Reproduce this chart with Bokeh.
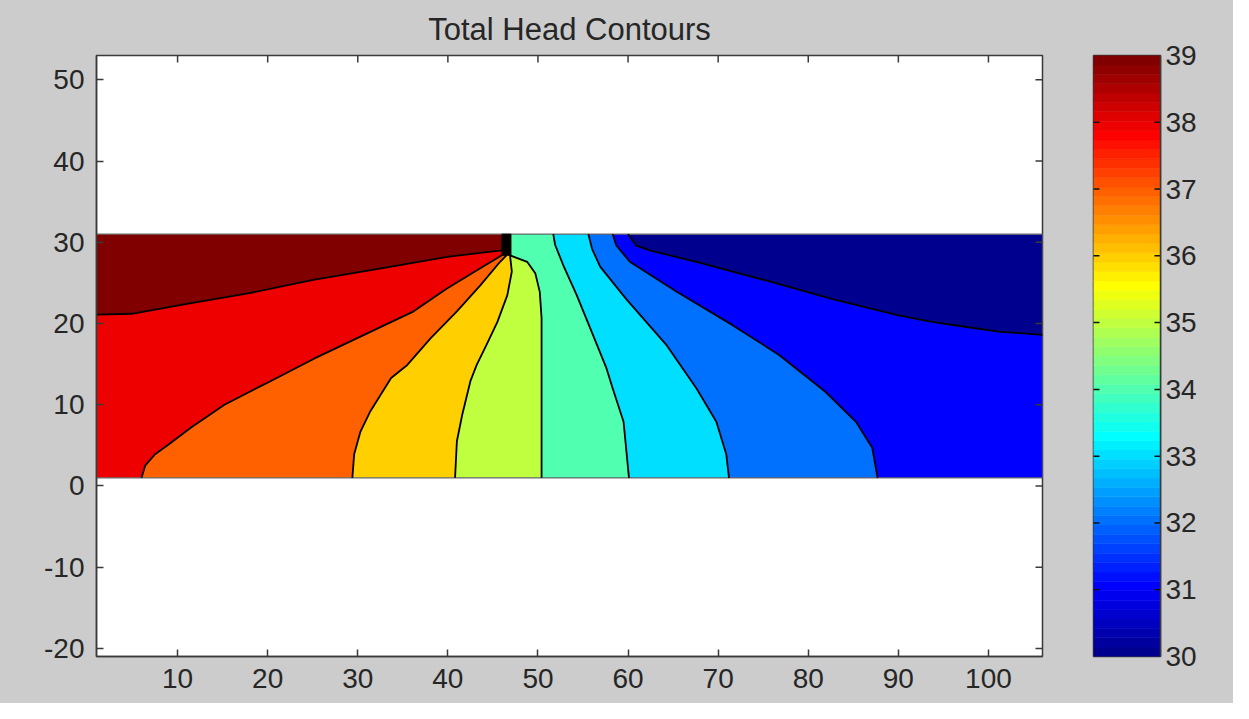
import numpy as np
from bokeh.plotting import figure
from bokeh.layouts import row
from bokeh.models import FixedTicker, LinearAxis, Range1d
from bokeh.embed import file_html
from bokeh.resources import INLINE

# ---------------- data ----------------
title_text = "Total Head Contours"
levels = [30, 31, 32, 33, 34, 35, 36, 37, 38, 39]
x_ticks = [10, 20, 30, 40, 50, 60, 70, 80, 90, 100]
y_ticks = [-20, -10, 0, 10, 20, 30, 40, 50]
cbar_ticks = [30, 31, 32, 33, 34, 35, 36, 37, 38, 39]
x_limits = [1, 106]
y_limits = [-21, 53]
domain_x = [1, 106]
domain_y = [1, 31]
pile_x = [46.0, 47.0]
pile_y = [28.4, 31.0]

# contour lines of total head
h31_x = [60.0, 60.9, 62.4, 67.9, 75.3, 82.7, 90.0, 93.7, 97.4, 101.1, 106.0]
h31_y = [31.0, 29.6, 29.0, 27.5, 25.3, 23.0, 21.0, 20.2, 19.6, 19.0, 18.6]
h32_x = [58.3, 58.7, 60.2, 65.4, 71.6, 76.8, 81.9, 85.3, 87.1, 87.7]
h32_y = [31.0, 29.6, 27.6, 23.9, 19.8, 16.1, 11.6, 7.9, 4.7, 1.0]
h33_x = [55.6, 56.0, 56.9, 59.8, 64.3, 67.6, 69.8, 70.9, 71.2]
h33_y = [31.0, 29.2, 27.0, 23.0, 17.3, 12.0, 7.9, 3.9, 1.0]
h34_x = [51.7, 51.9, 52.8, 54.3, 56.1, 57.6, 58.3, 59.5, 60.1]
h34_y = [31.0, 29.7, 27.2, 23.5, 18.6, 14.5, 12.0, 7.9, 1.0]
h35_x = [46.9, 48.8, 49.7, 50.2, 50.4, 50.4]
h35_y = [28.4, 27.6, 26.2, 23.9, 20.7, 1.0]
h36_x = [40.8, 41.0, 41.6, 42.5, 43.2, 44.3, 45.5, 46.6, 47.1, 46.9]
h36_y = [1.0, 5.5, 8.8, 12.9, 14.9, 17.4, 20.2, 23.5, 26.4, 28.4]
h37_x = [29.4, 29.6, 30.3, 31.4, 33.7, 35.5, 38.1, 41.0, 43.6, 45.8, 46.5]
h37_y = [1.0, 3.9, 6.7, 9.2, 13.3, 14.9, 18.2, 21.5, 24.7, 27.6, 28.4]
h38_x = [6.0, 6.4, 7.5, 9.0, 11.5, 15.2, 19.6, 25.2, 30.7, 36.2, 39.9, 43.6, 46.0]
h38_y = [1.0, 2.5, 3.9, 5.1, 7.2, 10.0, 12.5, 15.7, 18.6, 21.5, 24.3, 26.8, 28.4]
h39_x = [1.0, 4.9, 10.4, 17.8, 25.2, 32.6, 39.9, 43.6, 46.0]
h39_y = [21.1, 21.2, 22.3, 23.7, 25.4, 26.8, 28.2, 28.7, 29.0]


# ---------------- colormap (MATLAB jet, 64 entries) ----------------
def jet(m=64):
    n = int(np.ceil(m / 4))
    u = np.concatenate([np.arange(1, n + 1) / n, np.ones(n - 1), np.arange(n, 0, -1) / n])
    g = int(np.ceil(n / 2)) - (1 if m % 4 == 1 else 0) + np.arange(1, len(u) + 1)
    r = g + n
    b = g - n
    cmap = np.zeros((m, 3))
    for chan, idx in ((0, r), (1, g), (2, b)):
        ok = (idx >= 1) & (idx <= m)
        cmap[idx[ok] - 1, chan] = u[ok]
    return ["#%02x%02x%02x" % tuple(int(round(c * 255)) for c in row_) for row_ in cmap]


JET = jet(64)
cmin, cmax = levels[0], levels[-1]


def level_color(v):
    i = int(np.floor((v - cmin) / (cmax - cmin) * 63))
    return JET[max(0, min(63, i))]


# ---------------- build filled regions (painter's order) ----------------
x0, x1 = domain_x
y0, y1 = domain_y
px0, px1 = pile_x
lines = {
    31: (h31_x, h31_y, [(x1, y0), (x0, y0), (x0, y1)]),
    32: (h32_x, h32_y, [(x0, y0), (x0, y1)]),
    33: (h33_x, h33_y, [(x0, y0), (x0, y1)]),
    34: (h34_x, h34_y, [(x0, y0), (x0, y1)]),
    35: (h35_x, h35_y, [(x0, y0), (x0, y1), (px1, y1)]),
    36: (h36_x, h36_y, [(px0, y1), (x0, y1), (x0, y0)]),
    37: (h37_x, h37_y, [(px0, y1), (x0, y1), (x0, y0)]),
    38: (h38_x, h38_y, [(px0, y1), (x0, y1), (x0, y0)]),
    39: (h39_x, h39_y, [(px0, y1), (x0, y1)]),
}

fill_xs = [[x0, x1, x1, x0]]
fill_ys = [[y0, y0, y1, y1]]
fill_cols = [level_color(levels[0])]
for lv in levels[1:]:
    lx, ly, corners = lines[lv]
    fill_xs.append(list(lx) + [c[0] for c in corners])
    fill_ys.append(list(ly) + [c[1] for c in corners])
    fill_cols.append(level_color(lv))

FONT = "Liberation Sans"
TXT = "#262626"
AX = "#3a3a3a"
BG = "#cccccc"
LABEL_SIZE = "28px"

# ---------------- main axes ----------------
p = figure(width=1068, height=703, x_range=Range1d(*x_limits), y_range=Range1d(*y_limits),
           output_backend="svg", toolbar_location=None, title=title_text,
           min_border_left=96, min_border_right=26, min_border_top=54, min_border_bottom=47)
p.background_fill_color = "white"
p.border_fill_color = BG
p.outline_line_color = AX
p.outline_line_width = 1.5
p.xgrid.visible = False
p.ygrid.visible = False
p.title.text_font = FONT
p.title.text_font_size = "31px"
p.title.text_font_style = "normal"
p.title.text_color = TXT
p.title.align = "center"
p.title.standoff = 18

p.xaxis.ticker = FixedTicker(ticks=x_ticks)
p.yaxis.ticker = FixedTicker(ticks=y_ticks)
p.yaxis.major_label_overrides = {t: str(t) for t in y_ticks}
for ax in (p.xaxis[0], p.yaxis[0]):
    ax.major_tick_in = 7
    ax.major_tick_out = 0
    ax.minor_tick_line_color = None
    ax.axis_line_color = AX
    ax.axis_line_width = 1.5
    ax.major_tick_line_color = AX
    ax.major_tick_line_width = 1.5
    ax.major_label_text_font = FONT
    ax.major_label_text_font_size = LABEL_SIZE
    ax.major_label_text_color = TXT
p.xaxis.major_label_standoff = 12
p.yaxis.major_label_standoff = 12

p.patches(fill_xs, fill_ys, fill_color=fill_cols, line_color=None)
p.quad(left=[x0], right=[x1], bottom=[y0], top=[y1], fill_color=None,
       line_color="#6a6a6a", line_width=1.2)
contour_xs = [lines[lv][0] for lv in levels[1:]]
contour_ys = [lines[lv][1] for lv in levels[1:]]
p.multi_line(contour_xs, contour_ys, line_color="black", line_width=1.8)
p.quad(left=[pile_x[0]], right=[pile_x[1]], bottom=[pile_y[0]], top=[pile_y[1]],
       fill_color="black", line_color="black")

# inward ticks on the top and right edges (half of each dash is clipped by the frame)
p.scatter(x=x_ticks, y=[y_limits[1]] * len(x_ticks), marker="dash", angle=np.pi / 2,
          size=14, line_color=AX, line_width=1.5)
p.scatter(x=[x_limits[1]] * len(y_ticks), y=y_ticks, marker="dash",
          size=14, line_color=AX, line_width=1.5)

# ---------------- colorbar ----------------
cb = figure(width=165, height=703, x_range=Range1d(0, 1), y_range=Range1d(cmin, cmax),
            output_backend="svg", toolbar_location=None, x_axis_type=None, y_axis_type=None,
            min_border_left=25, min_border_right=73, min_border_top=54, min_border_bottom=46)
cb.background_fill_color = "white"
cb.border_fill_color = BG
cb.outline_line_color = AX
cb.outline_line_width = 1.5
cb.xgrid.visible = False
cb.ygrid.visible = False
nb = len(JET)
edges = np.linspace(cmin, cmax, nb + 1)
cb.quad(left=0, right=1, bottom=edges[:-1], top=edges[1:], fill_color=JET, line_color=JET, line_width=0.6)
inner = cbar_ticks[1:-1]
cb.scatter(x=[0] * len(inner), y=inner, marker="dash", size=12, line_color="#111111", line_width=1.5)
cb.scatter(x=[1] * len(inner), y=inner, marker="dash", size=12, line_color="#111111", line_width=1.5)

cb_right = LinearAxis(ticker=FixedTicker(ticks=cbar_ticks))
cb_right.major_tick_in = 0
cb_right.major_tick_out = 0
cb_right.minor_tick_line_color = None
cb_right.axis_line_color = AX
cb_right.axis_line_width = 1.5
cb_right.major_label_text_font = FONT
cb_right.major_label_text_font_size = LABEL_SIZE
cb_right.major_label_text_color = TXT
cb_right.major_label_standoff = 5
cb.add_layout(cb_right, "right")

layout = row(p, cb, styles={"background-color": BG})

open("out.html", "w").write(file_html(layout, INLINE))
